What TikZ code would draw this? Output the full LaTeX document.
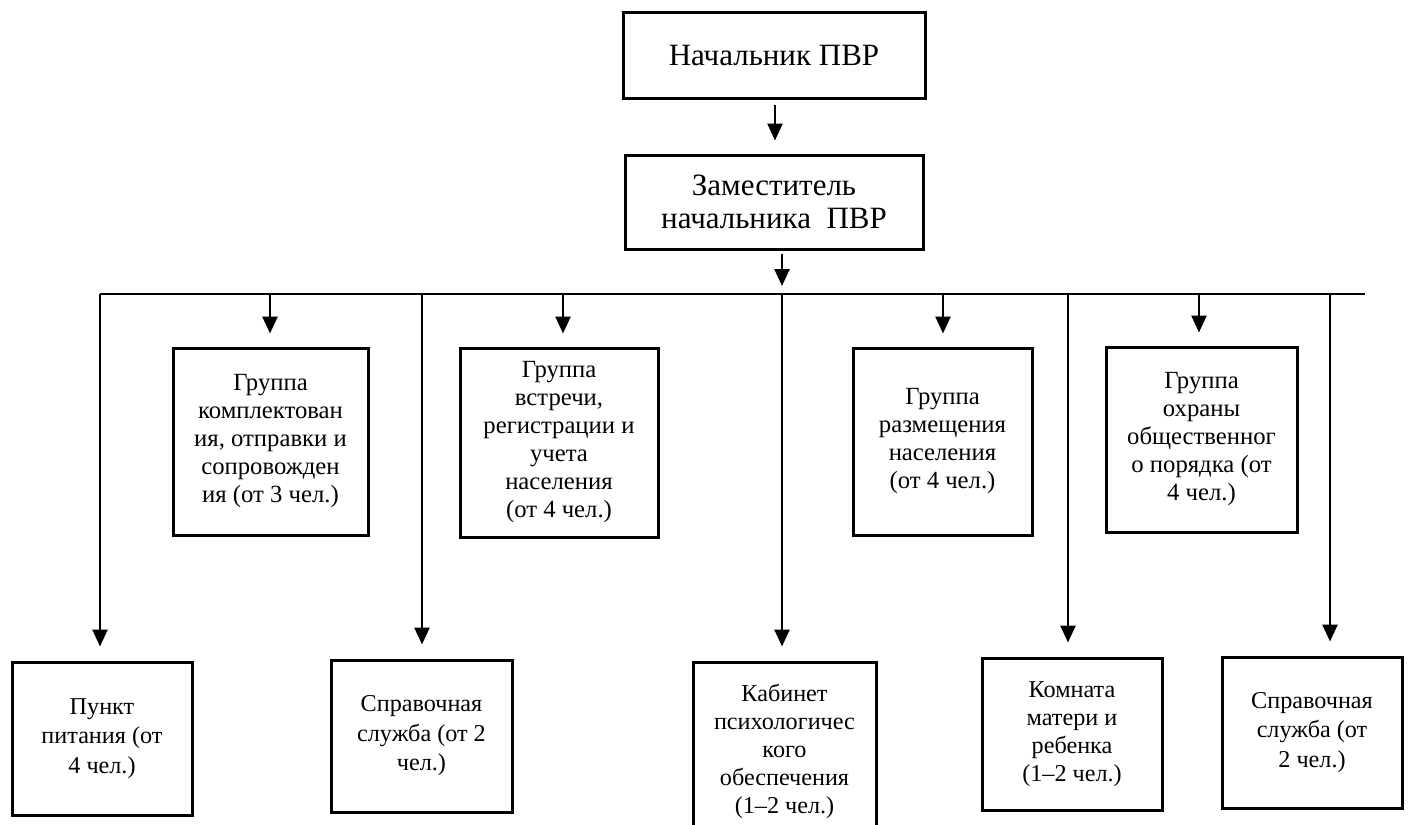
\documentclass[tikz,border=0pt]{standalone}
\usepackage{fontspec}
\setmainfont{Liberation Serif}
\usetikzlibrary{arrows.meta,calc}
\begin{document}
\begin{tikzpicture}[x=1pt,y=-1pt,
  box/.style={draw,line width=3pt,inner sep=0pt,align=center},
  bigtxt/.style={font=\fontsize{31}{33.5}\selectfont},
  smalltxt/.style={font=\fontsize{24.7}{28}\selectfont},
  lowtxt/.style={font=\fontsize{24.2}{28}\selectfont},
  lowtxtb/.style={font=\fontsize{24.2}{29.5}\selectfont},
  arr/.style={line width=2.6pt,-{Triangle[length=17pt,width=15pt]}},
  bus/.style={line width=1.8pt}]
\clip (0,0) rectangle (1409,825);
\fill[white] (0,0) rectangle (1409,825);
% top
\node[box,bigtxt,minimum width=302pt,minimum height=86pt] (chief) at (774,55) {Начальник ПВР};
\node[box,bigtxt,minimum width=298pt,minimum height=94pt] (dep) at (774,202) {Заместитель\\начальника\ \ ПВР};
% groups
\node[box,smalltxt,minimum width=195pt,minimum height=187pt] (g1) at (270.5,441.5) {Группа\\комплектован\\ия, отправки и\\сопровожден\\ия (от 3 чел.)};
\node[box,smalltxt,minimum width=198pt,minimum height=189pt] (g2) at (559,442.5) {Группа\\встречи,\\регистрации и\\учета\\населения\\(от 4 чел.)};
\node[box,smalltxt,minimum width=179pt,minimum height=187pt] (g3) at (942.5,441.5) {Группа\\размещения\\населения\\(от 4 чел.)};
\node[box,smalltxt,minimum width=191pt,minimum height=185pt] (g4) at (1201.5,439.5) {Группа\\охраны\\общественног\\о порядка (от\\4 чел.)};
% services
\node[box,lowtxtb,minimum width=180pt,minimum height=153pt] (s1) at (102,738.5) {Пункт\\питания (от\\4 чел.)};
\node[box,lowtxtb,minimum width=181pt,minimum height=152pt] (s2) at (421.5,736) {Справочная\\служба (от 2\\чел.)};
\node[box,lowtxt,minimum width=183pt,minimum height=178pt] (s3) at (784.5,751) {Кабинет\\психологичес\\кого\\обеспечения\\(1–2 чел.)};
\node[box,lowtxt,minimum width=180pt,minimum height=152pt] (s4) at (1072,734) {Комната\\матери и\\ребенка\\(1–2 чел.)};
\node[box,lowtxtb,minimum width=180pt,minimum height=151pt] (s5) at (1312,732.5) {Справочная\\служба (от\\2 чел.)};
% bus
\coordinate (bL) at (100,294);
\coordinate (bR) at (1365,294);
\coordinate (bc) at (782,294);
\coordinate (b1) at (270,294);
\coordinate (b2) at (563,294);
\coordinate (b3) at (943,294);
\coordinate (b4) at (1199,294);
\coordinate (v1) at (100,294);
\coordinate (v2) at (422,294);
\coordinate (v3) at (782,294);
\coordinate (v4) at (1068,294);
\coordinate (v5) at (1330,294);
\draw[bus] (bL) -- (bR);
\draw[arr] ($(chief.south)+(1,5)$) -- ($(dep.north)+(1,-13)$);
\draw[arr] ($(dep.south -| bc)+(0,3)$) -- ($(bc)+(0,-8)$);
\foreach \b/\g in {b1/g1,b2/g2,b3/g3,b4/g4}
  \draw[arr] (\b) -- ($(\b |- \g.north)+(0,-13)$);
\foreach \v/\s in {v1/s1,v2/s2,v3/s3,v4/s4,v5/s5}
  \draw[arr] (\v) -- ($(\v |- \s.north)+(0,-14)$);
\end{tikzpicture}
\end{document}
